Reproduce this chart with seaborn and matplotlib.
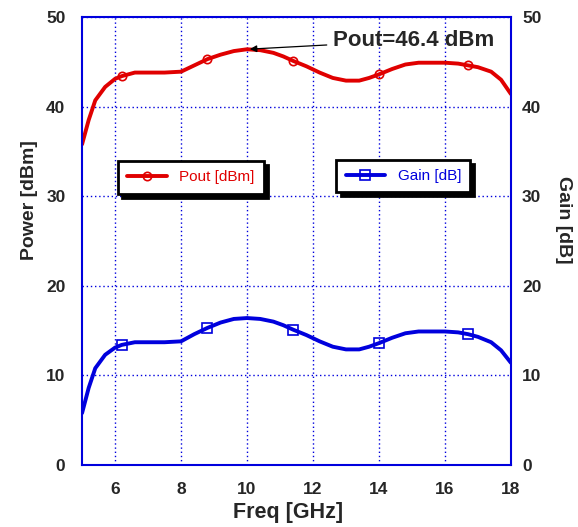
import numpy as np
import pandas as pd
import matplotlib
matplotlib.use("Agg")
import matplotlib.pyplot as plt
import seaborn as sns

freq = [5.0, 5.2, 5.4, 5.7, 6.0, 6.2, 6.6, 7.0, 7.5, 8.0, 8.4, 8.8, 9.2, 9.6, 10.0,
        10.4, 10.8, 11.1, 11.4, 11.8, 12.2, 12.6, 13.0, 13.4, 13.7, 14.0, 14.4, 14.8,
        15.2, 15.6, 16.0, 16.4, 16.7, 17.0, 17.4, 17.7, 18.0]
pout = [35.8, 38.5, 40.7, 42.2, 43.1, 43.4, 43.8, 43.8, 43.8, 43.9, 44.6, 45.3, 45.8,
        46.2, 46.4, 46.3, 46.0, 45.6, 45.1, 44.5, 43.8, 43.2, 42.9, 42.9, 43.2, 43.6,
        44.2, 44.7, 44.9, 44.9, 44.9, 44.8, 44.6, 44.4, 43.9, 43.0, 41.4]
gain = [5.8, 8.6, 10.8, 12.3, 13.1, 13.4, 13.7, 13.7, 13.7, 13.8, 14.6, 15.3, 15.9,
        16.3, 16.4, 16.3, 16.0, 15.6, 15.1, 14.5, 13.8, 13.2, 12.9, 12.9, 13.2, 13.6,
        14.2, 14.7, 14.9, 14.9, 14.9, 14.8, 14.6, 14.3, 13.7, 12.8, 11.4]
marker_freqs = [6.2, 8.8, 11.4, 14.0, 16.7]
xticks = [6, 8, 10, 12, 14, 16, 18]
yticks = [0, 10, 20, 30, 40, 50]
peak_label = "Pout=46.4 dBm"

sns.set_style("white")
plt.rcParams['font.family'] = ['Liberation Sans', 'DejaVu Sans']

df = pd.DataFrame({"Freq": freq, "Pout": pout, "Gain": gain})
mk_idx = [freq.index(f) for f in marker_freqs]

fig = plt.figure(figsize=(5.78, 5.27), dpi=100)
ax = fig.add_axes([0.142, 0.1177, 0.742, 0.850])

red = "#e00000"
blue = "#0000dd"
sns.lineplot(data=df, x="Freq", y="Pout", ax=ax, color=red, lw=2.8, sort=False,
             marker="o", markevery=mk_idx, markersize=6, markerfacecolor="none",
             markeredgecolor=red, markeredgewidth=1.2, label="Pout [dBm]", legend=False)
sns.lineplot(data=df, x="Freq", y="Gain", ax=ax, color=blue, lw=2.8, sort=False,
             marker="s", markevery=mk_idx, markersize=7, markerfacecolor="none",
             markeredgecolor=blue, markeredgewidth=1.2, label="Gain [dB]", legend=False)

ax.set_xlim(5, 18)
ax.set_ylim(0, 50)
ax.set_xticks(xticks)
ax.set_yticks(yticks)
ax.grid(True, color=blue, linestyle=(0, (1, 2)), linewidth=1.0)
for s in ax.spines.values():
    s.set_color(blue)
    s.set_linewidth(1.5)
ax.tick_params(axis="both", length=0, labelsize=12.5)
ax.tick_params(axis="y", pad=12)
ax.tick_params(axis="x", pad=12)
for lab in ax.get_xticklabels() + ax.get_yticklabels():
    lab.set_fontweight("bold")

ax.set_xlabel("Freq [GHz]", fontsize=15.5, fontweight="bold")
ax.xaxis.set_label_coords(0.48, -0.083)
ax.set_ylabel("Power [dBm]", fontsize=14, fontweight="bold")
ax.yaxis.set_label_coords(-0.102, 0.592)

ax2 = ax.twinx()
ax2.set_ylim(0, 50)
ax2.set_yticks(yticks)
ax2.tick_params(axis="y", length=0, labelsize=12.5, pad=8)
for lab in ax2.get_yticklabels():
    lab.set_fontweight("bold")
for s in ax2.spines.values():
    s.set_visible(False)
ax2.set_ylabel("Gain [dB]", fontsize=14, fontweight="bold", rotation=-90, va="center")
ax2.yaxis.set_label_coords(1.123, 0.547)
ax2.grid(False)

lines = ax.get_lines()
h_pout = [l for l in lines if l.get_label() == "Pout [dBm]"]
h_gain = [l for l in lines if l.get_label() == "Gain [dB]"]
shadow = {"color": "black", "alpha": 1.0, "ox": 3, "oy": -3}
leg1 = ax.legend(handles=h_pout, loc="center", bbox_to_anchor=(0.254, 0.642),
                 fontsize=11, frameon=True, fancybox=False, shadow=shadow,
                 handlelength=2.6, borderpad=0.6, labelcolor=red, framealpha=1)
leg1.get_frame().set_edgecolor("black")
leg1.get_frame().set_linewidth(2)
ax.add_artist(leg1)
leg2 = ax.legend(handles=h_gain, loc="center", bbox_to_anchor=(0.749, 0.645),
                 fontsize=11, frameon=True, fancybox=False, shadow=shadow,
                 handlelength=2.6, borderpad=0.6, labelcolor=blue, framealpha=1)
leg2.get_frame().set_edgecolor("black")
leg2.get_frame().set_linewidth(2)

peak_i = int(np.argmax(pout))
ax.annotate(peak_label, xy=(freq[peak_i], pout[peak_i]), xytext=(12.6, 47.4),
            fontsize=16, fontweight="bold", va="center", ha="left",
            arrowprops=dict(arrowstyle="-|>", color="black", lw=0.9, mutation_scale=10))

fig.savefig("out.png", dpi=100)
